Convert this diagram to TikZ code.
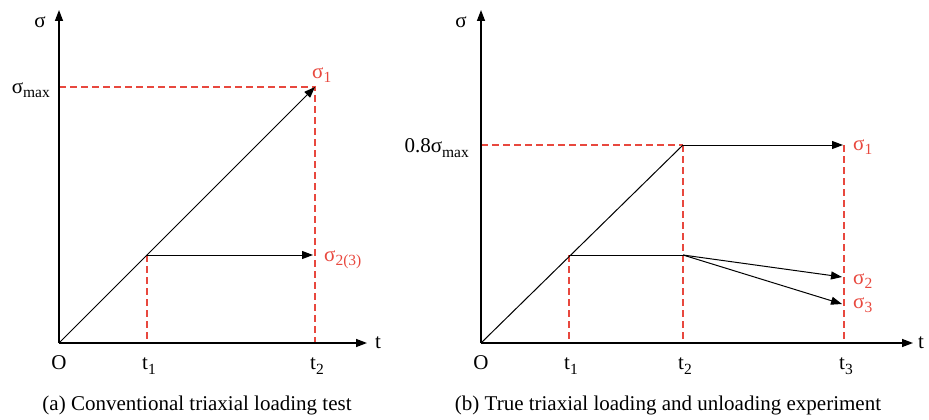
\documentclass[tikz,border=0pt]{standalone}
\usepackage{fontspec}
\setmainfont{Liberation Serif}
\usetikzlibrary{arrows.meta}
\definecolor{dashred}{RGB}{232,72,62}
\newcommand{\lowidx}[1]{\raisebox{-4.5pt}{\fontsize{15.5}{16}\selectfont #1}}
\begin{document}
\begin{tikzpicture}[x=1pt,y=-1pt,
  axis/.style={line width=1.4pt,-{Triangle[length=11pt,width=8pt]}},
  curve/.style={line width=1pt},
  arr/.style={line width=1pt,-{Triangle[length=11pt,width=8pt]}},
  guide/.style={dashred,line width=1.1pt,dash pattern=on 7pt off 4pt},
  lbl/.style={font=\fontsize{21}{24}\selectfont,inner sep=0pt},
  rlbl/.style={lbl,text=dashred},
  captext/.style={font=\fontsize{21}{24}\selectfont,inner sep=0pt}]
\useasboundingbox (0,0) rectangle (929,420);
% ---------- panel (a)
\coordinate (oa) at (59,343);
\coordinate (ya) at (59,10);
\coordinate (xa) at (367,343);
\coordinate (pa1) at (147,255);
\coordinate (t1a) at (147,343);
\coordinate (ma) at (59,87);
\coordinate (pa2) at (315,87);
\coordinate (t2a) at (315,343);
\coordinate (ea) at (313,255);
\draw[guide] (ma) -- (pa2) -- (t2a);
\draw[guide] (pa1) -- (t1a);
\draw[axis] (oa) -- (ya);
\draw[axis] (oa) -- (xa);
\draw[curve] (oa) -- (pa1);
\draw[arr] (pa1) -- (pa2);
\draw[arr] (pa1) -- (ea);
\node[lbl] (sa) at (40,22) {σ};
\node[lbl,anchor=east] (sma) at (50,90) {σ\lowidx{max}};
\node[rlbl,anchor=west] (s1a) at (312,75) {σ\lowidx{1}};
\node[rlbl,anchor=west] (s23a) at (324,260) {σ\lowidx{2(3)}};
\node[lbl] (ta) at (378,343) {t};
\node[lbl] (Oa) at (59,363) {O};
\node[lbl] (lt1a) at (149,366) {t\lowidx{1}};
\node[lbl] (lt2a) at (317,366) {t\lowidx{2}};
\node[captext] (capa) at (197,405) {(a) Conventional triaxial loading test};
% ---------- panel (b)
\coordinate (ob) at (481,343);
\coordinate (yb) at (481,10);
\coordinate (xb) at (913,343);
\coordinate (pb1) at (569,255);
\coordinate (t1b) at (569,343);
\coordinate (mb) at (481,145);
\coordinate (pb2) at (683,145);
\coordinate (qb2) at (683,255);
\coordinate (t2b) at (683,343);
\coordinate (pb3) at (844,145);
\coordinate (t3b) at (844,343);
\coordinate (e1b) at (843,145);
\coordinate (e2b) at (842,277);
\coordinate (e3b) at (842,304);
\draw[guide] (mb) -- (pb2);
\draw[guide] (pb2) -- (t2b);
\draw[guide] (pb3) -- (t3b);
\draw[guide] (pb1) -- (t1b);
\draw[axis] (ob) -- (yb);
\draw[axis] (ob) -- (xb);
\draw[curve] (ob) -- (pb2);
\draw[arr] (pb2) -- (e1b);
\draw[curve] (pb1) -- (qb2);
\draw[arr] (qb2) -- (e2b);
\draw[arr] (qb2) -- (e3b);
\node[lbl] (sb) at (461,22) {σ};
\node[lbl,anchor=east] (smb) at (469,148) {0.8σ\lowidx{max}};
\node[rlbl,anchor=west] (s1b) at (853,147) {σ\lowidx{1}};
\node[rlbl,anchor=west] (s2b) at (853,281) {σ\lowidx{2}};
\node[rlbl,anchor=west] (s3b) at (853,305) {σ\lowidx{3}};
\node[lbl] (tb) at (921,343) {t};
\node[lbl] (Ob) at (481,363) {O};
\node[lbl] (lt1b) at (571,366) {t\lowidx{1}};
\node[lbl] (lt2b) at (685,366) {t\lowidx{2}};
\node[lbl] (lt3b) at (846,366) {t\lowidx{3}};
\node[captext] (capb) at (668,405) {(b) True triaxial loading and unloading experiment};
\end{tikzpicture}
\end{document}
